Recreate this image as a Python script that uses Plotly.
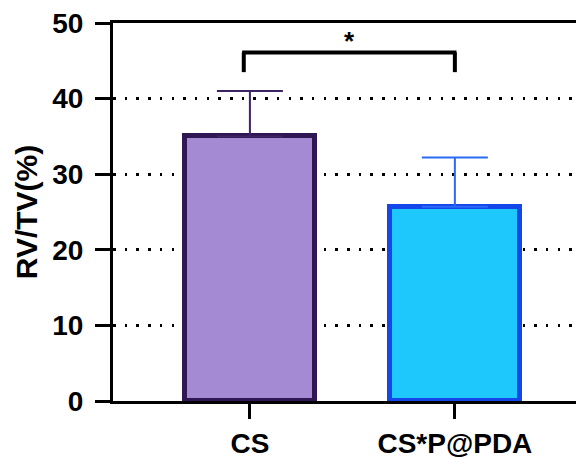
import plotly.graph_objects as go

categories = ["CS", "CS*P@PDA"]
values = [35.0, 25.7]
errors_up = [6.0, 6.5]
fill_colors = ["#a48ad2", "#1ec8fd"]
border_colors = ["#2e1753", "#1446ea"]
error_colors = ["#3d2466", "#2a6af5"]
y_ticks = [0, 10, 20, 30, 40, 50]
sig_label = "*"
sig_pair = (0, 1)
sig_height = 46.1
sig_leg = 43.5

FONT = "Liberation Sans, Arial, sans-serif"

fig = go.Figure()
for i, cat in enumerate(categories):
    fig.add_trace(go.Bar(
        x=[i], y=[values[i]], width=0.634,
        marker=dict(color=fill_colors[i], line=dict(color=border_colors[i], width=5)),
        error_y=dict(type="data", symmetric=False, array=[errors_up[i]], arrayminus=[0],
                     color=error_colors[i], thickness=2, width=33),
        showlegend=False, hoverinfo="y",
    ))

x0 = sig_pair[0] - 0.03
x1 = sig_pair[1]
bracket = dict(type="line", xref="x", yref="y", line=dict(color="black", width=4))
fig.add_shape(x0=x0, x1=x0, y0=sig_leg, y1=sig_height, **bracket)
fig.add_shape(x0=x1, x1=x1, y0=sig_leg, y1=sig_height, **bracket)
fig.add_shape(x0=x0 - 0.008, x1=x1 + 0.008, y0=sig_height, y1=sig_height, **bracket)
fig.add_annotation(x=(x0 + x1) / 2, y=sig_height, text="<b>" + sig_label + "</b>",
                   showarrow=False, yanchor="bottom", yshift=-6,
                   font=dict(family=FONT, size=26, color="black"))

fig.update_layout(
    width=576, height=451,
    margin=dict(l=105, r=0, t=12, b=55),
    plot_bgcolor="white", paper_bgcolor="white",
    font=dict(family=FONT, color="black"),
    bargap=0,
)
fig.update_xaxes(
    range=[-0.668, 1.63],
    tickmode="array", tickvals=list(range(len(categories))),
    ticktext=["<b>" + c + "</b>" for c in categories],
    tickfont=dict(family=FONT, size=28, color="black"),
    showline=True, linecolor="black", linewidth=3, mirror=True,
    ticks="outside", ticklen=15, tickwidth=3, tickcolor="black",
    showgrid=False, zeroline=False,
)
fig.update_yaxes(
    range=[0, 50], tickmode="array", tickvals=y_ticks,
    ticktext=["<b>%d</b>" % t for t in y_ticks],
    tickfont=dict(family=FONT, size=28, color="black"),
    ticklabeloverflow="allow", ticklabelstandoff=6,
    showline=True, linecolor="black", linewidth=3,
    ticks="outside", ticklen=15, tickwidth=3, tickcolor="black",
    showgrid=True, gridcolor="black", gridwidth=2.5, griddash="2.5px,9.2px",
    zeroline=False,
    title=dict(text="<b>RV/TV(%)</b>", font=dict(family=FONT, size=30, color="black"), standoff=6),
)

fig.write_html("out.html")
